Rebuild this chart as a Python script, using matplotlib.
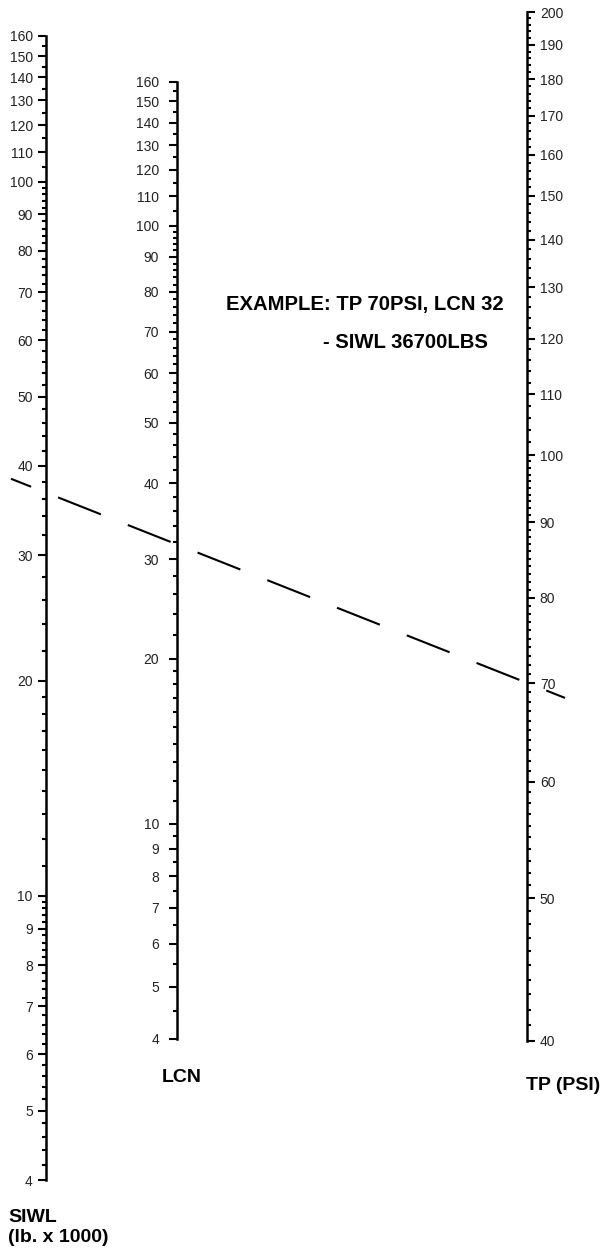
import numpy as np
import matplotlib
matplotlib.use('Agg')
import matplotlib.pyplot as plt
from matplotlib.lines import Line2D
from matplotlib.ticker import NullFormatter
from matplotlib.transforms import IdentityTransform

plt.rcParams['font.family'] = ['Liberation Sans', 'DejaVu Sans']

# scale values
siwl_major = [4, 5, 6, 7, 8, 9, 10, 20, 30, 40, 50, 60, 70, 80, 90, 100, 110, 120, 130, 140, 150, 160]
lcn_major = [4, 5, 6, 7, 8, 9, 10, 20, 30, 40, 50, 60, 70, 80, 90, 100, 110, 120, 130, 140, 150, 160]
tp_major = [40, 50, 60, 70, 80, 90, 100, 110, 120, 130, 140, 150, 160, 170, 180, 190, 200]

# minor tick steps: (start, stop, step)
siwl_minor_steps = [(4, 10, 0.2), (10, 20, 1), (20, 100, 2), (100, 160, 5)]
lcn_minor_steps = [(4, 10, 0.5), (10, 20, 1), (20, 100, 2), (100, 160, 5)]
tp_minor_steps = [(40, 100, 1), (100, 200, 2)]

# worked example on the chart
example_tp = 70
example_lcn = 32
example_siwl = 36.7

# LCN scale is not a plain log scale: knots (value) -> fraction of axis height
lcn_knots = [4, 10, 20, 30, 40, 70, 100, 160]
lcn_frac = [0.0, 0.2246, 0.3970, 0.5014, 0.5808, 0.7389, 0.8496, 1.0]


def lcn_fwd(v):
    v = np.clip(np.asarray(v, dtype=float), 1e-6, None)
    return np.interp(np.log10(v), np.log10(lcn_knots), lcn_frac)


def lcn_inv(p):
    return 10 ** np.interp(p, lcn_frac, np.log10(lcn_knots))


def minor_ticks(steps, major):
    out = []
    for a, b, s in steps:
        out.extend(np.arange(a, b + s / 2, s))
    out = np.round(out, 3)
    return [m for m in out if not np.any(np.isclose(m, major))]


W, H = 604, 1253
fig = plt.figure(figsize=(W / 100, H / 100), dpi=100)


def scale_axes(x_left, y_top, y_bot):
    return fig.add_axes([x_left / W, 1 - y_bot / H, 1 / W, (y_bot - y_top) / H])


def style(ax, side, major, minor, lo, hi, pad):
    ax.set_ylim(lo, hi)
    ax.set_xlim(0, 1)
    ax.patch.set_visible(False)
    for s in ['top', 'bottom', 'left', 'right']:
        ax.spines[s].set_visible(s == side)
    ax.spines[side].set_linewidth(1.8)
    ax.set_xticks([])
    ax.set_yticks(major, labels=[str(m) for m in major])
    ax.set_yticks(minor, minor=True)
    ax.yaxis.set_minor_formatter(NullFormatter())
    if side == 'right':
        ax.yaxis.tick_right()
    ax.tick_params(axis='y', which='major', length=6, width=1.5, labelsize=10,
                   pad=pad, labelcolor='#222222')
    ax.tick_params(axis='y', which='minor', length=3, width=1.5)


# SIWL (left)
ax_siwl = scale_axes(46, 36, 1180)
ax_siwl.set_yscale('log')
style(ax_siwl, 'left', siwl_major, minor_ticks(siwl_minor_steps, siwl_major), 4, 160, 3.5)

# LCN (middle)
ax_lcn = scale_axes(176.5, 81.7, 1039)
ax_lcn.set_yscale('function', functions=(lcn_fwd, lcn_inv))
style(ax_lcn, 'left', lcn_major, minor_ticks(lcn_minor_steps, lcn_major), 4, 160, 6.5)

# TP (right)
ax_tp = scale_axes(526.3, 12, 1040.7)
ax_tp.set_yscale('log')
style(ax_tp, 'right', tp_major, minor_ticks(tp_minor_steps, tp_major), 40, 200, 3)

# dashed example line through SIWL and TP
p1 = ax_siwl.transData.transform((0, example_siwl))
p2 = ax_tp.transData.transform((1, example_tp))
t = np.array([(11 - p1[0]) / (p2[0] - p1[0]), (565 - p1[0]) / (p2[0] - p1[0])])
xs = p1[0] + t * (p2[0] - p1[0])
ys = p1[1] + t * (p2[1] - p1[1])
lw = 1.5
fig.add_artist(Line2D(xs, ys, transform=IdentityTransform(), color='black', lw=lw,
                      linestyle=(11.7, (22.1, 13.9)), solid_capstyle='butt',
                      dash_capstyle='butt'))

# texts
bold = dict(fontsize=14, fontweight='bold', va='center', ha='left', color='black')
fig.text(226 / W, 1 - 305 / H, 'EXAMPLE: TP 70PSI, LCN 32', **{**bold, 'fontsize': 14.6})
fig.text(323 / W, 1 - 342 / H, '- SIWL 36700LBS', **{**bold, 'fontsize': 14.6})
fig.text(162 / W, 1 - 1078 / H, 'LCN', **bold)
fig.text(526 / W, 1 - 1085 / H, 'TP (PSI)', **bold)
fig.text(8 / W, 1 - 1218 / H, 'SIWL', **bold)
fig.text(8 / W, 1 - 1238 / H, '(lb. x 1000)', **bold)

fig.savefig('out.png', dpi=100)
